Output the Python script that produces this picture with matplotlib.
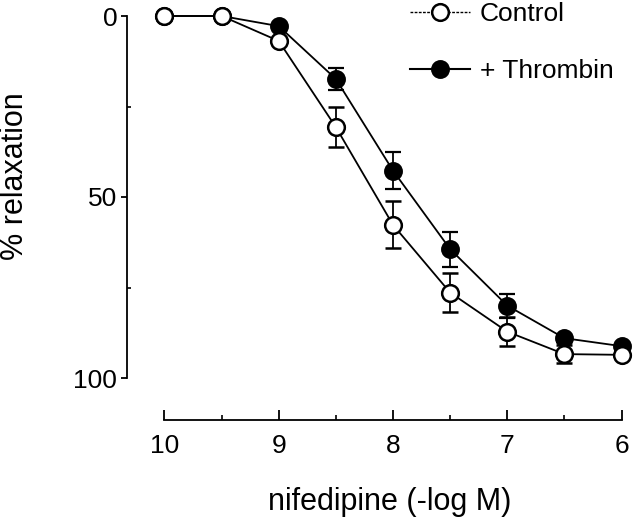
import numpy as np
import matplotlib
matplotlib.use('Agg')
import matplotlib.pyplot as plt
from matplotlib.lines import Line2D

plt.rcParams['font.family'] = ['Liberation Sans', 'DejaVu Sans']

# nifedipine concentration (-log M)
conc = [10, 9.5, 9, 8.5, 8, 7.5, 7, 6.5, 6]

# % relaxation, mean and error
control = [0, 0, 6.9, 30.7, 57.7, 76.4, 87.2, 93.4, 93.6]
control_err = [0, 0, 0, 5.5, 6.5, 5.4, 4.0, 2.5, 0]
thrombin = [0, 0, 2.8, 17.4, 42.7, 64.4, 80.0, 89.0, 91.2]
thrombin_err = [0, 0, 0, 3.0, 5.0, 4.8, 3.3, 1.0, 0]

fig = plt.figure(figsize=(6.4, 5.17), dpi=100)
ax = fig.add_axes([127/640, (517-378)/517, 494.5/640, 362/517])

ax.errorbar(conc, thrombin, yerr=thrombin_err, fmt='-o', color='black',
            mfc='black', mec='black', ms=12, mew=1.6, lw=1.3,
            elinewidth=1.3, capsize=6, capthick=1.3, clip_on=False, zorder=3)
ax.errorbar(conc, control, yerr=control_err, fmt='-o', color='black',
            mfc='white', mec='black', ms=12, mew=1.8, lw=1.3,
            elinewidth=1.3, capsize=6, capthick=1.3, clip_on=False, zorder=4)

ax.set_xlim(10.328, 6)
ax.set_ylim(100, 0)

for s in ['top', 'right']:
    ax.spines[s].set_visible(False)
ax.spines['left'].set_bounds(0, 100)
ax.spines['bottom'].set_position(('outward', 30.2))
ax.spines['bottom'].set_bounds(10, 6)
ax.spines['left'].set_linewidth(1.3)
ax.spines['bottom'].set_linewidth(1.3)

ax.set_xticks([10, 9, 8, 7, 6])
ax.set_xticks([9.5, 8.5, 7.5, 6.5], minor=True)
ax.set_yticks([0, 50, 100])
ax.set_yticks([25, 75], minor=True)
ax.tick_params(axis='x', which='major', direction='in', length=7, width=1.3,
               pad=10, labelsize=19)
ax.tick_params(axis='x', which='minor', direction='in', length=3.6, width=1.2)
ax.tick_params(axis='y', which='major', direction='out', length=4, width=1.3,
               pad=3, labelsize=19)
ax.tick_params(axis='y', which='minor', direction='in', length=3, width=1.2)

ax.set_xlabel('nifedipine (-log M)', fontsize=22)
ax.set_ylabel('% relaxation', fontsize=22)
ax.xaxis.set_label_coords(0.532, -0.300)
ax.yaxis.set_label_coords(-0.196, 0.558)

handles = [
    Line2D([], [], color='black', lw=1.0, ls=(0, (2, 1)), marker='o',
           mfc='white', mec='black', ms=12, mew=1.8),
    Line2D([], [], color='black', lw=1.5, marker='o', mfc='black',
           mec='black', ms=12, mew=1.6),
]
fig.legend(handles, ['Control', '+ Thrombin'], loc='upper left',
           bbox_to_anchor=(410/640, 1 - 2/517), frameon=False, fontsize=19,
           handlelength=2.27, handletextpad=0.38, labelspacing=1.25,
           borderpad=0, borderaxespad=0)

fig.savefig('out.png', dpi=100)
